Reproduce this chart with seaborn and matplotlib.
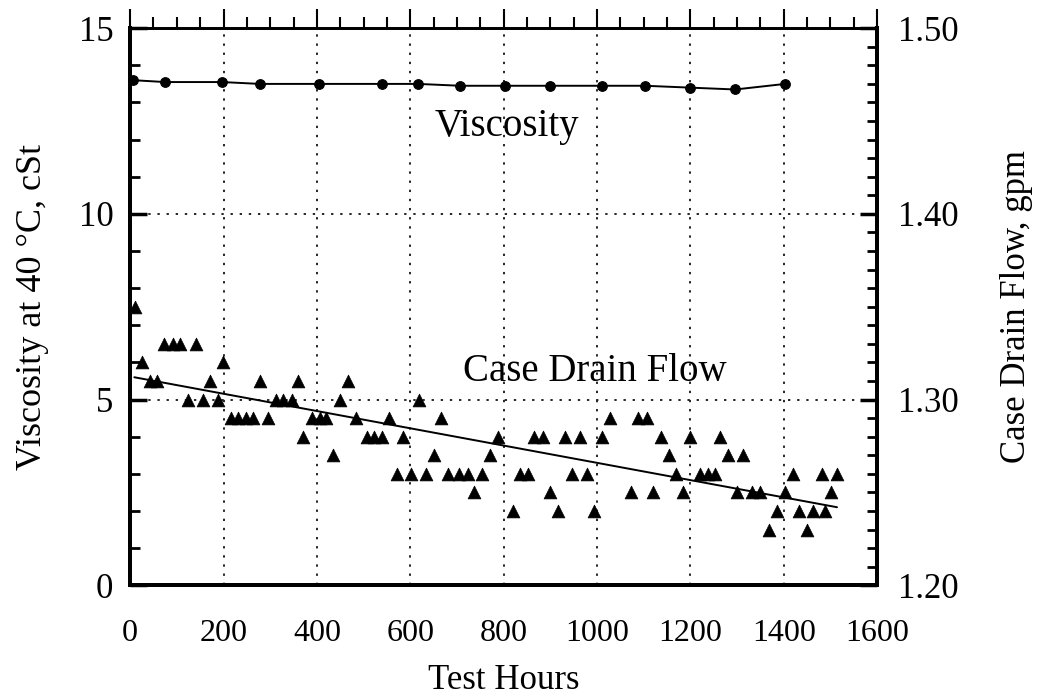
import numpy as np
import pandas as pd
import matplotlib
matplotlib.use("Agg")
import matplotlib.pyplot as plt
import seaborn as sns
from matplotlib.ticker import MultipleLocator, FormatStrFormatter

# viscosity (cSt, left axis)
visc_hours = [7, 75, 197, 278, 405, 540, 617, 707, 803, 900, 1011, 1103, 1199, 1296, 1403]
visc_cst = [13.6, 13.55, 13.55, 13.5, 13.5, 13.5, 13.5, 13.45, 13.45, 13.45, 13.45, 13.45, 13.4, 13.35, 13.5]

# case drain flow (gpm, right axis) - one list of hours per flow level
flow_levels = {
    1.35: [11],
    1.33: [73, 92, 107, 141],
    1.32: [26, 199],
    1.31: [43, 58, 171, 278, 360, 467],
    1.30: [124, 157, 188, 313, 328, 347, 450, 619],
    1.29: [216, 231, 248, 264, 296, 390, 407, 420, 484, 555, 666, 1028, 1088, 1107],
    1.28: [371, 507, 522, 539, 585, 788, 865, 885, 932, 964, 1011, 1137, 1199, 1264],
    1.27: [435, 651, 771, 1154, 1281, 1313],
    1.26: [571, 601, 634, 681, 705, 724, 754, 835, 852, 947, 979, 1169, 1221, 1238, 1253, 1420, 1482, 1514],
    1.25: [737, 900, 1073, 1120, 1184, 1300, 1332, 1349, 1403, 1501],
    1.24: [820, 917, 994, 1386, 1433, 1463, 1489],
    1.23: [1369, 1450],
}
trend_hours = [9, 1514]
trend_gpm = [1.312, 1.242]

x_ticks = [0, 200, 400, 600, 800, 1000, 1200, 1400, 1600]
left_ticks = [0, 5, 10, 15]
right_ticks = [1.20, 1.30, 1.40, 1.50]

flow = pd.DataFrame(
    [(h, g) for g, hrs in flow_levels.items() for h in hrs], columns=["hours", "gpm"]
)
visc = pd.DataFrame({"hours": visc_hours, "cst": visc_cst})

sns.set_theme(style="white")
plt.rcParams["font.family"] = ["Liberation Serif", "DejaVu Serif"]
plt.rcParams.update({"text.color": "black", "axes.labelcolor": "black",
                     "xtick.color": "black", "ytick.color": "black"})

fig = plt.figure(figsize=(10.41, 7), dpi=100)
ax = fig.add_axes([0.125, 0.164, 0.7176, 0.7957])
ax2 = ax.twinx()

# viscosity line
sns.lineplot(data=visc, x="hours", y="cst", ax=ax, color="black", lw=1.4,
             marker="o", markersize=7, markeredgecolor="black", markerfacecolor="black")
ax.set_xlim(0, 1600)
ax.set_ylim(0, 15)
ax.set_xticks(x_ticks)
ax.set_yticks(left_ticks)
ax.xaxis.set_minor_locator(MultipleLocator(50))
ax.yaxis.set_minor_locator(MultipleLocator(1))
ax.grid(True, which="major", color="0.15", linestyle=(0, (1.2, 3.5)), lw=1.4)
ax.set_xlabel("Test Hours", fontsize=25, labelpad=12)
ax.set_ylabel("Viscosity at 40 °C, cSt", fontsize=26)
ax.yaxis.set_label_coords(-0.108, 0.5)
ax.tick_params(axis="x", which="major", direction="out", length=14, width=1.5,
               labelsize=23, top=True, pad=10)
ax.tick_params(axis="x", which="minor", direction="out", length=8, width=1.5, top=True)
ax.tick_params(axis="y", which="major", direction="in", length=12, width=2.5,
               labelsize=25, pad=12)
ax.tick_params(axis="y", which="minor", direction="in", length=7, width=2)

# case drain flow
sns.scatterplot(data=flow, x="hours", y="gpm", ax=ax2, marker="^", s=85,
                color="black", edgecolor="black", linewidth=0.5, zorder=3)
sns.lineplot(x=trend_hours, y=trend_gpm, ax=ax2, color="black", lw=1.4)
ax2.set_ylim(1.20, 1.50)
ax2.set_yticks(right_ticks)
ax2.yaxis.set_major_formatter(FormatStrFormatter("%.2f"))
ax2.yaxis.set_minor_locator(MultipleLocator(0.01))
ax2.set_ylabel("Case Drain Flow, gpm", fontsize=25)
ax2.yaxis.set_label_coords(1.165, 0.5)
ax2.tick_params(axis="y", which="major", direction="in", length=12, width=2.5,
                labelsize=25, pad=15)
ax2.tick_params(axis="y", which="minor", direction="in", length=7, width=2)
ax2.set_xlabel("")

for a in (ax, ax2):
    for side in ["left", "right", "bottom"]:
        a.spines[side].set_linewidth(2.8)
        a.spines[side].set_color("black")
    a.spines["top"].set_linewidth(2)
    a.spines["top"].set_color("black")

ax.text(807, 12.35, "Viscosity", fontsize=28, ha="center", va="center")
ax.text(996, 5.75, "Case Drain Flow", fontsize=28, ha="center", va="center")

fig.savefig("out.png", dpi=100, facecolor="white")
